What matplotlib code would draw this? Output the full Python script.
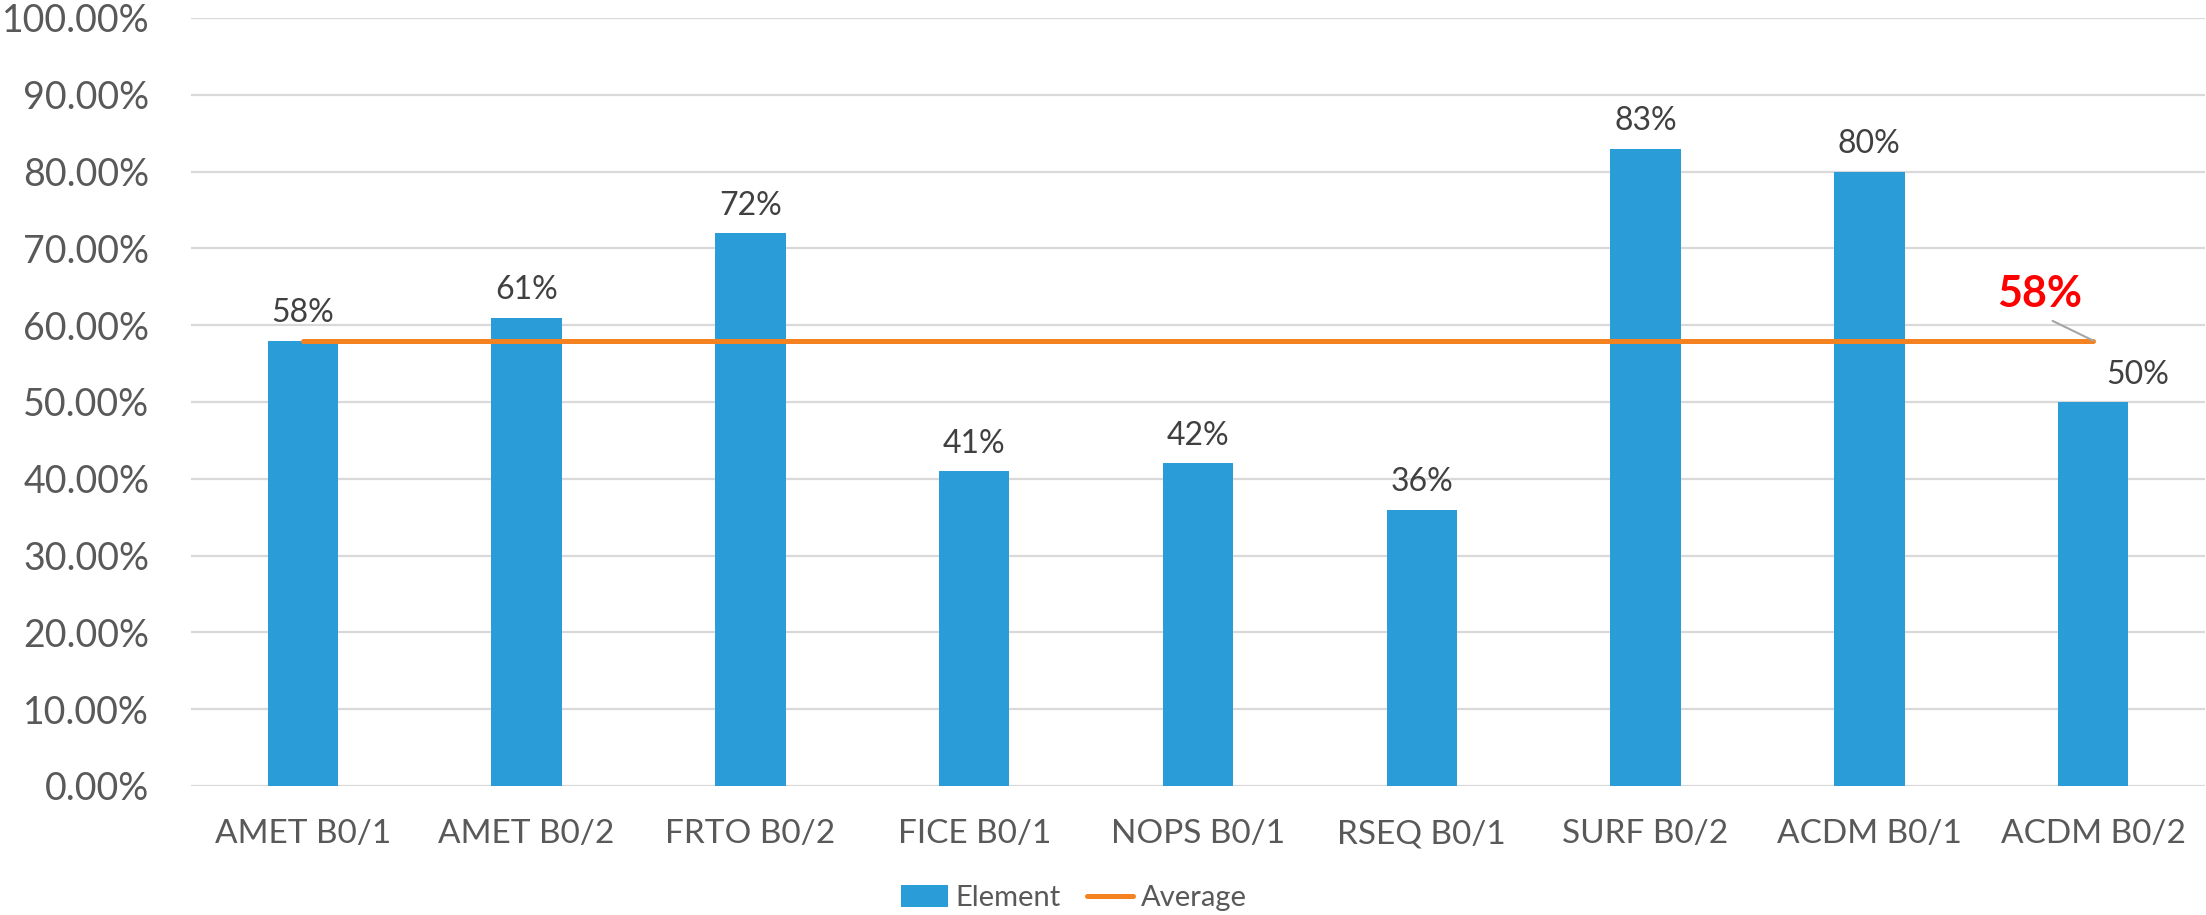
import numpy as np
import matplotlib
matplotlib.use("Agg")
import matplotlib.pyplot as plt
from matplotlib.ticker import PercentFormatter

# ------------------------------------ DATA ----------------------------------- #
categories = ["AMET B0/1", "AMET B0/2", "FRTO B0/2", "FICE B0/1", "NOPS B0/1",
              "RSEQ B0/1", "SURF B0/2", "ACDM B0/1", "ACDM B0/2"]
element = [0.58, 0.61, 0.72, 0.41, 0.42, 0.36, 0.83, 0.80, 0.50]
average = [0.58] * len(categories)
y_ticks = np.arange(0, 1.01, 0.1)

# ----------------------------------- STYLE ----------------------------------- #
plt.rcParams['font.family'] = ['Lato', 'DejaVu Sans']
bar_col = '#2A9CD8'
line_col = '#F58220'
text_col = '#595959'
label_col = '#404040'
grid_col = '#D9D9D9'

fig = plt.figure(figsize=(22.06, 9.15), dpi=100)
ax = fig.add_axes((191 / 2206, 1 - 786 / 915, 2014 / 2206, 768 / 915))

x = np.arange(len(categories))
bars = ax.bar(x, element, width=0.315, color=bar_col, label='Element', zorder=2)
line, = ax.plot(x, average, color=line_col, linewidth=3.6, solid_capstyle='round',
                label='Average', zorder=3)

ax.set_xlim(-0.5, len(categories) - 0.5)
ax.set_ylim(0, 1.0)
ax.set_yticks(y_ticks)
ax.yaxis.set_major_formatter(PercentFormatter(1.0, decimals=2))
ax.set_xticks(x)
ax.set_xticklabels(categories)
ax.grid(axis='y', color=grid_col, linewidth=1.6, zorder=0)
for s in ax.spines.values():
    s.set_visible(False)
ax.tick_params(axis='y', length=0, pad=30, labelsize=27, labelcolor=text_col)
ax.tick_params(axis='x', length=0, pad=24, labelsize=24, labelcolor=text_col)

# data labels
for i, v in enumerate(element):
    dx = 0.2 if i == len(element) - 1 else 0.0
    ax.annotate(f"{v * 100:.0f}%", (x[i] + dx, v), xytext=(0, 9),
                textcoords='offset points', ha='center', va='bottom',
                fontsize=23, color=label_col)

# average label
ax.annotate(f"{average[-1] * 100:.0f}%", xy=(x[-1], average[-1]),
            xytext=(7.76, 0.64), ha='center', va='center',
            fontsize=31, fontweight='bold', color='#FF0000',
            arrowprops=dict(arrowstyle='-', color='#A6A6A6', linewidth=1.5,
                            relpos=(0.5, 0.0), shrinkA=6, shrinkB=0))

fig.legend([bars, line], ['Element', 'Average'], loc='center',
           bbox_to_anchor=(1074 / 2206, 1 - 898 / 915), ncol=2,
           frameon=False, fontsize=21, labelcolor=text_col,
           handlelength=1.6, handleheight=0.8, handletextpad=0.25,
           columnspacing=0.9)

fig.savefig('out.png', dpi=100)
